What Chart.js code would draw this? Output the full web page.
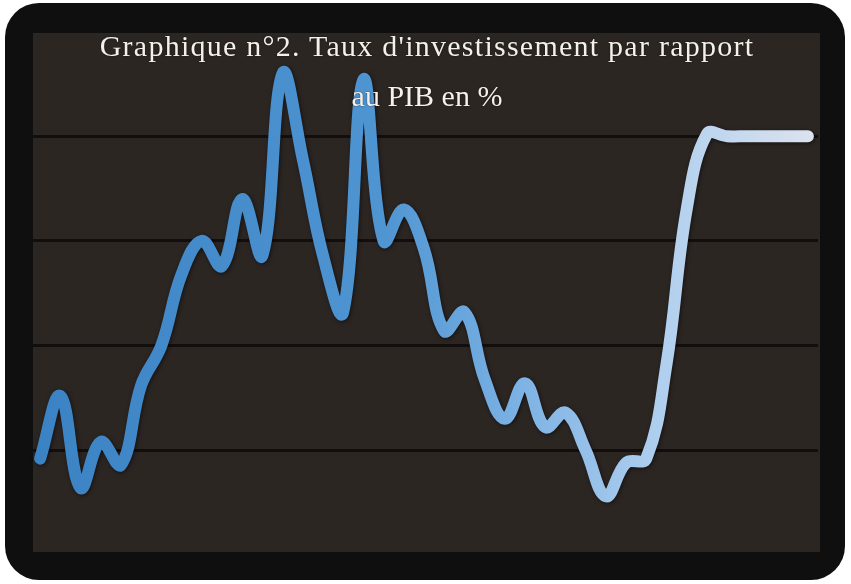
<!DOCTYPE html>
<html lang="fr">
<head>
<meta charset="utf-8">
<title>Taux d'investissement par rapport au PIB</title>
<script src="https://cdn.jsdelivr.net/npm/chart.js@4.4.1/dist/chart.umd.min.js"></script>
<style>
  html, body { margin: 0; padding: 0; background: #fff; }
  #wrap { position: relative; width: 851px; height: 584px; overflow: hidden; }
  #cadre {
    position: absolute; left: 5px; top: 3px; width: 840px; height: 577px;
    background: #0f0f0f; border-radius: 34px;
  }
  #fond {
    position: absolute; left: 33px; top: 33px; width: 787px; height: 519px;
    background: #2c2623;
  }
  #graph { position: absolute; left: 0; top: 0; }
  #titre {
    position: absolute; left: 0; top: 21px; width: 854px;
    text-align: center; color: #f4f1ea;
    font-family: "Liberation Serif", "DejaVu Serif", serif;
    font-size: 30px; line-height: 50px;
    text-shadow: 0 0 2px rgba(0,0,0,0.6);
  }
  #titre .l1 { letter-spacing: 1.25px; }
</style>
</head>
<body>
<div id="wrap">
  <div id="cadre"></div>
  <div id="fond"></div>
  <canvas id="graph" width="851" height="584"></canvas>
  <div id="titre"><span class="l1">Graphique n°2. Taux d'investissement par rapport</span><br>au PIB en %</div>
</div>
<script>
// annees (axe x non affiche)
const annees = [];
for (let a = 1970; a <= 2008; a++) annees.push(String(a));

// taux d'investissement en % du PIB
const taux = [
  9.6, 12.6, 8.2, 10.4, 9.3, 13.1, 15.0, 18.4, 20.0, 18.8,
  22.0, 19.3, 28.0, 23.9, 19.3, 16.6, 27.7, 20.0, 21.5, 19.6,
  15.7, 16.6, 13.4, 11.5, 13.2, 11.1, 11.8, 10.0, 7.8, 9.4,
  9.6, 14.1, 21.5, 25.1, 25.0, 25.0, 25.0, 25.0, 25.0
];

// lignes horizontales
const graduations = [10, 15, 20, 25];

const degrade = (context) => {
  const chart = context.chart;
  const area = chart.chartArea;
  if (!area) return "#3a7fbf";
  const g = chart.ctx.createLinearGradient(area.left, 0, area.right, 0);
  g.addColorStop(0, "#3b82c4");
  g.addColorStop(0.45, "#4f95d2");
  g.addColorStop(0.62, "#7cb2e4");
  g.addColorStop(0.8, "#b0cfee");
  g.addColorStop(1, "#dde3ef");
  return g;
};

const ombre = {
  id: "ombre",
  beforeDatasetDraw(chart) {
    const ctx = chart.ctx;
    ctx.save();
    ctx.shadowColor = "rgba(0,0,0,0.55)";
    ctx.shadowBlur = 4;
    ctx.shadowOffsetX = 1;
    ctx.shadowOffsetY = 1;
  },
  afterDatasetDraw(chart) {
    chart.ctx.restore();
  },
};

new Chart(document.getElementById("graph"), {
  type: "line",
  data: {
    labels: annees,
    datasets: [
      {
        data: taux,
        borderColor: degrade,
        borderWidth: 12,
        borderCapStyle: "round",
        borderJoinStyle: "round",
        tension: 0.4,
        pointRadius: 0,
        fill: false,
      },
    ],
  },
  options: {
    responsive: false,
    animation: false,
    layout: { padding: { left: 30, right: 33, top: 33, bottom: 32 } },
    scales: {
      x: {
        display: false,
        offset: true,
      },
      y: {
        min: 5.14,
        max: 29.93,
        afterBuildTicks: (scale) => {
          scale.ticks = graduations.map((v) => ({ value: v }));
        },
        ticks: { display: false },
        border: { display: false },
        grid: {
          color: "#120e0d",
          lineWidth: 3,
          drawTicks: false,
        },
      },
    },
    plugins: {
      legend: { display: false },
      tooltip: { enabled: false },
    },
  },
  plugins: [ombre],
});
</script>
</body>
</html>
